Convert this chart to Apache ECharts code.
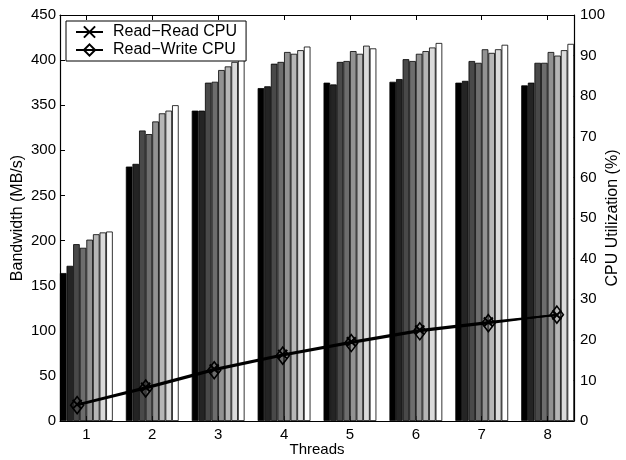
<!DOCTYPE html>
<html><head><meta charset="utf-8">
<script src="https://cdn.jsdelivr.net/npm/echarts@6/dist/echarts.min.js"></script>
<style>html,body{margin:0;padding:0;background:#fff}#c{width:626px;height:460px}</style>
</head><body><div id="c"></div>
<script>
const threads = [1, 2, 3, 4, 5, 6, 7, 8];
const leftTicks = [0, 50, 100, 150, 200, 250, 300, 350, 400, 450];
const rightTicks = [0, 10, 20, 30, 40, 50, 60, 70, 80, 90, 100];
const bars1 = [164, 282, 344, 369, 375, 376, 375, 372];
const bars2 = [172, 285, 344, 371, 373, 379, 377, 375];
const bars3 = [196, 322, 375, 396, 398, 401, 399, 397];
const bars4 = [192, 318, 376, 398, 399, 399, 397, 397];
const bars5 = [201, 332, 389, 409, 410, 407, 412, 409];
const bars6 = [207, 341, 393, 407, 407, 410, 408, 405];
const bars7 = [209, 344, 398, 411, 416, 414, 412, 411];
const bars8 = [210, 350, 402, 415, 413, 419, 417, 418];
const readReadCpu = [4.1, 8.3, 12.8, 16.4, 19.5, 22.4, 24.4, 26.1];
const readWriteCpu = [3.9, 8.0, 12.5, 16.1, 19.2, 22.1, 24.1, 26.2];
const barColors = ['#000000', '#242424', '#494949', '#6d6d6d', '#929292', '#b6b6b6', '#dbdbdb', '#ffffff'];

const FONT = "'Liberation Sans', Arial, Helvetica, sans-serif";
const barSets = [bars1, bars2, bars3, bars4, bars5, bars6, bars7, bars8];
const series = barSets.map((vals, i) => ({
  name: 'bar' + (i + 1),
  type: 'bar',
  xAxisIndex: 0, yAxisIndex: 0,
  barWidth: 6.6, barGap: '0%',
  itemStyle: { color: barColors[i], borderColor: '#000', borderWidth: 0.8 },
  data: threads.map((t, k) => [t, vals[k]]),
  silent: true, animation: false
}));
series.push({
  name: 'Read\u2212Read CPU', type: 'line', xAxisIndex: 1, yAxisIndex: 1,
  symbol: 'path://M0,0L10,10M10,0L0,10', symbolSize: 9,
  itemStyle: { color: 'transparent', borderColor: '#000', borderWidth: 2 },
  lineStyle: { color: '#000', width: 2 },
  data: threads.map((t, k) => [t, readReadCpu[k]]), animation: false, z: 5
});
series.push({
  name: 'Read\u2212Write CPU', type: 'line', xAxisIndex: 1, yAxisIndex: 1,
  symbol: 'diamond', symbolSize: [13, 17],
  itemStyle: { color: 'transparent', borderColor: '#000', borderWidth: 1.6 },
  lineStyle: { color: '#000', width: 2 },
  data: threads.map((t, k) => [t, readWriteCpu[k]]), animation: false, z: 6
});

const axisLine = { show: true, lineStyle: { color: '#000', width: 1.2 } };
const chart = echarts.init(document.getElementById('c'), null, { renderer: 'canvas' });
chart.setOption({
  animation: false,
  backgroundColor: '#fff',
  grid: { left: 60, right: 52, top: 15, bottom: 39, containLabel: false, outerBoundsMode: 'none' },
  legend: {
    data: ['Read\u2212Read CPU', 'Read\u2212Write CPU'],
    orient: 'vertical', left: 66, top: 21,
    itemWidth: 27, itemHeight: 14, itemGap: 0,
    padding: [2, 9, 2, 9],
    borderColor: '#000', borderWidth: 1, backgroundColor: '#fff',
    textStyle: { fontFamily: FONT, fontSize: 16, color: '#000', lineHeight: 18, padding: [0, 0, 0, 5] },
    z: 10
  },
  xAxis: [
    {
      type: 'value', position: 'bottom', min: 0.6, max: 8.4,
      axisLine: axisLine,
      axisTick: { show: true, inside: true, length: 5, customValues: threads, lineStyle: { color: '#000' } },
      axisLabel: { customValues: threads, color: '#000', fontFamily: FONT, fontSize: 15, margin: 6 },
      splitLine: { show: false },
      name: 'Threads', nameLocation: 'middle', nameGap: 21, nameMoveOverlap: false,
      nameTextStyle: { fontFamily: FONT, fontSize: 15, color: '#000' }
    },
    { type: 'value', show: false, min: 0.75, max: 8.25, splitLine: { show: false } },
    {
      type: 'value', position: 'top', min: 0.6, max: 8.4,
      axisLine: axisLine,
      axisTick: { show: true, inside: true, length: 5, customValues: threads, lineStyle: { color: '#000' } },
      axisLabel: { show: false }, splitLine: { show: false }
    }
  ],
  yAxis: [
    {
      type: 'value', position: 'left', min: 0, max: 450, interval: 50,
      axisLine: axisLine,
      axisTick: { show: true, inside: true, length: 5, lineStyle: { color: '#000' } },
      axisLabel: { color: '#000', fontFamily: FONT, fontSize: 15, margin: 4 },
      splitLine: { show: false },
      name: 'Bandwidth (MB/s)', nameLocation: 'middle', nameGap: 34, nameRotate: 90, nameMoveOverlap: false,
      nameTextStyle: { fontFamily: FONT, fontSize: 16, color: '#000' }
    },
    {
      type: 'value', position: 'right', min: 0, max: 100, interval: 10,
      axisLine: axisLine,
      axisTick: { show: true, inside: true, length: 5, lineStyle: { color: '#000' } },
      axisLabel: { color: '#000', fontFamily: FONT, fontSize: 15, margin: 6 },
      splitLine: { show: false },
      name: 'CPU Utilization (%)', nameLocation: 'middle', nameGap: 31, nameRotate: 90, nameMoveOverlap: false,
      nameTextStyle: { fontFamily: FONT, fontSize: 16, color: '#000' }
    }
  ],
  series: series
});
</script>
</body></html>
